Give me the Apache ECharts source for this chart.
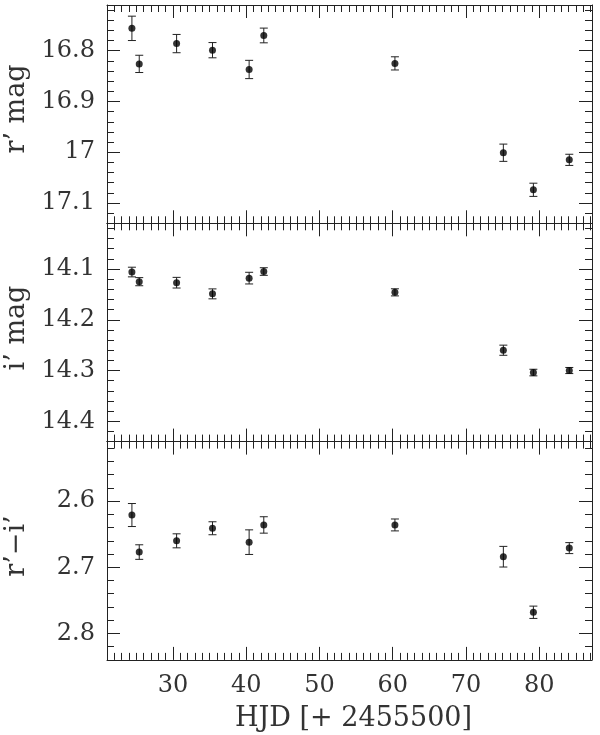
<!DOCTYPE html>
<html><head><meta charset="utf-8">
<script src="https://cdn.jsdelivr.net/npm/echarts@6/dist/echarts.min.js"></script>
<style>html,body{margin:0;padding:0;background:#fff}#c{width:600px;height:735px}</style>
</head><body><div id="c"></div>
<script>
// ---- data ----
const hjd    = [24.4, 25.4, 30.5, 35.4, 40.4, 42.4, 60.3, 75.1, 79.2, 84.1];
const rMag   = [16.756, 16.826, 16.786, 16.799, 16.837, 16.770, 16.825, 17.001, 17.074, 17.015];
const rErr   = [0.024, 0.017, 0.018, 0.015, 0.018, 0.0145, 0.013, 0.017, 0.013, 0.011];
const iMag   = [14.106, 14.125, 14.127, 14.149, 14.118, 14.105, 14.146, 14.260, 14.304, 14.300];
const iErr   = [0.0095, 0.008, 0.0105, 0.0098, 0.0115, 0.0075, 0.007, 0.010, 0.0065, 0.006];
const rmi    = [2.621, 2.677, 2.660, 2.641, 2.662, 2.636, 2.636, 2.684, 2.768, 2.671];
const rmiErr = [0.0174, 0.011, 0.0106, 0.0098, 0.0186, 0.0124, 0.009, 0.0156, 0.0093, 0.0083];
// ---- tick labels ----
const xTicks = [30, 40, 50, 60, 70, 80];
const rTicks = [16.8, 16.9, 17, 17.1];
const iTicks = [14.1, 14.2, 14.3, 14.4];
const cTicks = [2.6, 2.7, 2.8];
const xTitle = 'HJD [+ 2455500]';
const yTitles = ['r\u2019 mag', 'i\u2019 mag', 'r\u2019\u2212i\u2019'];

const FONT = 'DejaVu Serif';
const INK = '#222';
const TXT = '#333';
const X_MIN = 21, X_MAX = 87.2;
const panels = [
  {y: rMag, e: rErr, min: 16.71, max: 17.14, ticks: rTicks},
  {y: iMag, e: iErr, min: 14.01, max: 14.44, ticks: iTicks},
  {y: rmi,  e: rmiErr, min: 2.51, max: 2.84, ticks: cTicks}
];
const GL = 107, GW = 485, GTOP = 5, GH = 218.3;

function minorVals(min, max, step, majorStep) {
  const out = [];
  for (let k = Math.ceil(min / step - 1e-9); k * step <= max + 1e-9; k++) {
    const v = +(k * step).toFixed(6);
    const r = v / majorStep;
    if (Math.abs(r - Math.round(r)) > 1e-6) out.push(v);
  }
  return out;
}
const fmt = v => String(+(+v).toFixed(3));

const grids = [], xAxes = [], yAxes = [], series = [], graphics = [];
panels.forEach((p, gi) => {
  grids.push({left: GL, width: GW, top: GTOP + gi * GH, height: GH});
  const xMinor = minorVals(X_MIN, X_MAX, 1, 10);
  const yMinor = minorVals(p.min, p.max, 0.02, 0.1);
  const line = {show: true, onZero: false, lineStyle: {color: INK, width: 1}};
  const noLine = {show: false, onZero: false};
  const mk = (pos, vals, len, showLine, labels, isX) => ({
    type: 'value', gridIndex: gi, position: pos,
    min: isX ? X_MIN : p.min, max: isX ? X_MAX : p.max,
    inverse: !isX,
    splitLine: {show: false},
    axisLine: showLine ? line : noLine,
    axisTick: {show: true, inside: true, length: len, customValues: vals, lineStyle: {color: INK, width: 1}},
    axisLabel: labels ? {show: true, customValues: vals, formatter: fmt, color: TXT,
      fontFamily: FONT, fontSize: 24, lineHeight: 24, margin: isX ? 14 : 12} : {show: false}
  });
  xAxes.push(mk('bottom', xTicks, 13, true, gi === 2, true));
  xAxes.push(mk('bottom', xMinor, 7, false, false, true));
  xAxes.push(mk('top', xTicks, 13, true, false, true));
  xAxes.push(mk('top', xMinor, 7, false, false, true));
  yAxes.push(mk('left', p.ticks, 13, true, true, false));
  yAxes.push(mk('left', yMinor, 7, false, false, false));
  yAxes.push(mk('right', p.ticks, 13, true, false, false));
  yAxes.push(mk('right', yMinor, 7, false, false, false));

  const data = hjd.map((x, i) => [x, p.y[i], p.e[i]]);
  series.push({
    type: 'custom', xAxisIndex: gi * 4, yAxisIndex: gi * 4, data: data,
    encode: {x: 0, y: 1}, silent: true, clip: false,
    renderItem: function (params, api) {
      const x = api.value(0), y = api.value(1), e = api.value(2);
      const a = api.coord([x, y - e]), b = api.coord([x, y + e]);
      const cw = 4, st = {stroke: INK, lineWidth: 1};
      return {type: 'group', children: [
        {type: 'line', shape: {x1: a[0], y1: a[1], x2: b[0], y2: b[1]}, style: st},
        {type: 'line', shape: {x1: a[0] - cw, y1: a[1], x2: a[0] + cw, y2: a[1]}, style: st},
        {type: 'line', shape: {x1: b[0] - cw, y1: b[1], x2: b[0] + cw, y2: b[1]}, style: st}
      ]};
    }
  });
  series.push({
    type: 'scatter', xAxisIndex: gi * 4, yAxisIndex: gi * 4,
    data: hjd.map((x, i) => [x, p.y[i]]),
    symbol: 'circle', symbolSize: 7, itemStyle: {color: '#000'}, silent: true
  });
});

const yTitleCenters = [109, 328, 546];
yTitles.forEach((t, i) => {
  graphics.push({type: 'text', x: 17, y: yTitleCenters[i], rotation: Math.PI / 2,
    style: {text: t, font: '27px "DejaVu Serif"', fill: TXT, align: 'center', verticalAlign: 'middle'}});
});
graphics.push({type: 'text', x: GL + GW / 2 + 4, y: 719,
  style: {text: xTitle, font: '27px "DejaVu Serif"', fill: TXT, align: 'center', verticalAlign: 'middle'}});

const chart = echarts.init(document.getElementById('c'), null, {renderer: 'canvas'});
chart.setOption({
  animation: false,
  backgroundColor: '#fff',
  grid: grids, xAxis: xAxes, yAxis: yAxes, series: series, graphic: graphics
});
</script>
</body></html>
